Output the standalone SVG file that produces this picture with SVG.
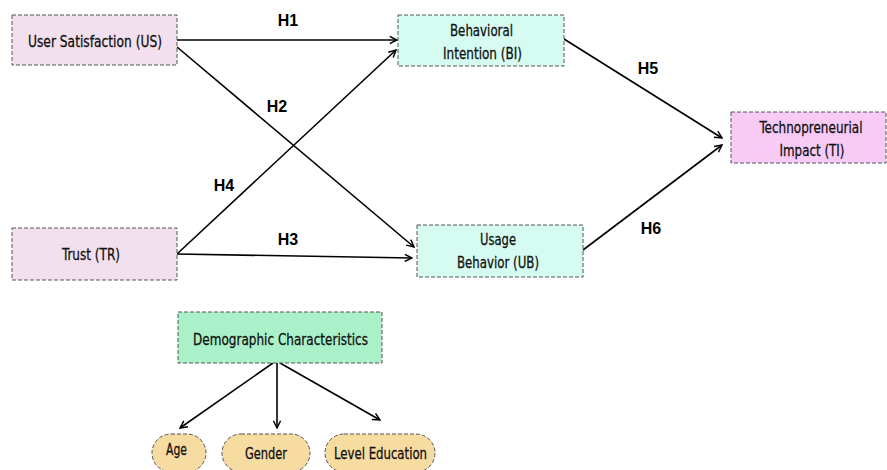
<svg xmlns="http://www.w3.org/2000/svg" width="887" height="470" viewBox="0 0 887 470">
<defs>
<marker id="ah" viewBox="0 0 10 10" refX="9" refY="5" markerWidth="9" markerHeight="9" markerUnits="userSpaceOnUse" orient="auto">
<path d="M1,1 L9,5 L1,9" fill="none" stroke="#000" stroke-width="1.6"/>
</marker>
<style>
.box{stroke:#555;stroke-width:1;stroke-dasharray:4 2}
.t{font-family:"DejaVu Sans Condensed","DejaVu Sans",sans-serif;font-stretch:condensed;font-size:16.5px;fill:#111;stroke:#111;stroke-width:0.3;text-anchor:middle}
.h{font-family:"Liberation Sans",Arial,sans-serif;font-weight:bold;font-size:16px;fill:#000;text-anchor:middle}
.c{stroke:#000;stroke-width:1.6;fill:none;marker-end:url(#ah)}
</style>
</defs>
<rect width="887" height="470" fill="#fff"/>
<g id="connectors">
<line class="c" x1="177" y1="40" x2="397" y2="40"/>
<line class="c" x1="177" y1="47" x2="414" y2="247"/>
<line class="c" x1="177" y1="254" x2="396" y2="50"/>
<line class="c" x1="177" y1="254" x2="412" y2="258"/>
<line class="c" x1="564" y1="39" x2="722" y2="138"/>
<line class="c" x1="583" y1="250" x2="722" y2="145"/>
<line class="c" x1="273" y1="363" x2="180" y2="428"/>
<line class="c" x1="277" y1="363" x2="277" y2="428"/>
<line class="c" x1="280" y1="363" x2="380" y2="420"/>
<text class="h" x="288" y="26">H1</text>
<text class="h" x="277" y="112">H2</text>
<text class="h" x="288" y="245">H3</text>
<text class="h" x="224" y="191">H4</text>
<text class="h" x="648" y="74">H5</text>
<text class="h" x="651" y="234">H6</text>
</g>
<g id="US"><rect class="box" x="12" y="15" width="165" height="50" fill="#f3e0ee"/><text class="t" x="95" y="47" textLength="134" lengthAdjust="spacingAndGlyphs">User Satisfaction (US)</text></g>
<g id="BI"><rect class="box" x="398" y="15" width="166" height="51" fill="#d6fbf1"/><text class="t" x="481.5" y="36" textLength="63" lengthAdjust="spacingAndGlyphs">Behavioral</text><text class="t" x="482.5" y="59" textLength="79" lengthAdjust="spacingAndGlyphs">Intention (BI)</text></g>
<g id="TI"><rect class="box" x="731" y="112" width="155" height="51" fill="#f7cbf6"/><text class="t" x="811" y="133" textLength="103" lengthAdjust="spacingAndGlyphs">Technopreneurial</text><text class="t" x="812" y="156" textLength="65" lengthAdjust="spacingAndGlyphs">Impact (TI)</text></g>
<g id="TR"><rect class="box" x="12" y="228" width="165" height="52" fill="#f3e0ee"/><text class="t" x="91" y="260" textLength="58" lengthAdjust="spacingAndGlyphs">Trust (TR)</text></g>
<g id="UB"><rect class="box" x="417" y="225" width="166" height="52" fill="#d6fbf1"/><text class="t" x="498" y="245" textLength="36" lengthAdjust="spacingAndGlyphs">Usage</text><text class="t" x="498" y="268" textLength="82" lengthAdjust="spacingAndGlyphs">Behavior (UB)</text></g>
<g id="DC"><rect class="box" x="178" y="312" width="204" height="51" fill="#aaf1c9"/><text class="t" x="280.5" y="345" textLength="175" lengthAdjust="spacingAndGlyphs">Demographic Characteristics</text></g>
<g id="Age"><rect class="box" x="152" y="434" width="54" height="38" rx="19" fill="#f7dca2"/><text class="t" x="176.5" y="455" textLength="21" lengthAdjust="spacingAndGlyphs">Age</text></g>
<g id="Gender"><rect class="box" x="222" y="434" width="88" height="38" rx="19" fill="#f7dca2"/><text class="t" x="266" y="459" textLength="42" lengthAdjust="spacingAndGlyphs">Gender</text></g>
<g id="LevelEducation"><rect class="box" x="325" y="434" width="110" height="38" rx="19" fill="#f7dca2"/><text class="t" x="380.5" y="459" textLength="93" lengthAdjust="spacingAndGlyphs">Level Education</text></g>
</svg>
